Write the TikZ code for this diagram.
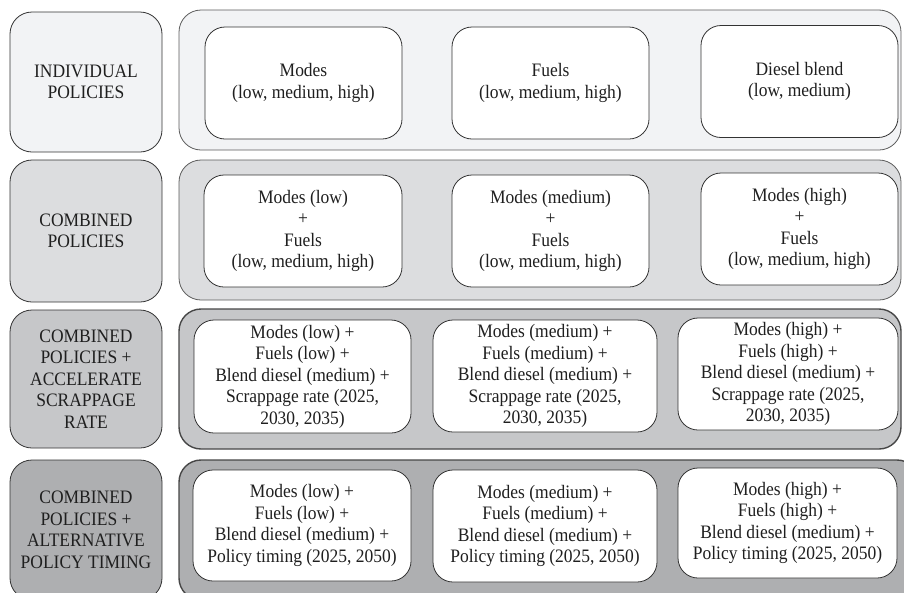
\documentclass[tikz,border=0pt]{standalone}
\usepackage{fontspec}
\setmainfont{Liberation Serif}[FakeStretch=0.92]
\usepackage{tikz}

\definecolor{shadeA}{HTML}{F2F3F5}
\definecolor{shadeB}{HTML}{DCDDDF}
\definecolor{shadeC}{HTML}{C6C7C9}
\definecolor{shadeD}{HTML}{AEAFB1}
\definecolor{rim}{HTML}{333333}

\begin{document}
\begin{tikzpicture}[x=1pt, y=-1pt,
  every node/.style={font=\fontsize{19}{21.5}\selectfont, align=center, text=black!88},
  rowtag/.style={draw=rim, line width=.8pt, rounded corners=22pt,
    minimum width=152pt, minimum height=140pt, inner sep=0pt},
  panel/.style={draw=rim!80, line width=.8pt, rounded corners=22pt,
    minimum width=722pt, minimum height=140pt, inner sep=0pt},
  option/.style={draw=rim, line width=.8pt, fill=white, rounded corners=20pt,
    minimum height=112pt, inner sep=0pt}
  ]
  \clip (0,0) rectangle (904,592);
  \useasboundingbox (0,0) rectangle (904,592);

  % row tags
  \node[rowtag, fill=shadeA] (tag1) at (86,82) {INDIVIDUAL\\POLICIES};
  \node[rowtag, fill=shadeB, minimum height=142pt] (tag2) at (86,231) {COMBINED\\POLICIES};
  \node[rowtag, fill=shadeC, minimum height=138pt] (tag3) at (86,379)
    {COMBINED\\POLICIES +\\ACCELERATE\\SCRAPPAGE\\RATE};
  \node[rowtag, fill=shadeD] (tag4) at (86,530)
    {COMBINED\\POLICIES +\\ALTERNATIVE\\POLICY TIMING};

  % panels
  \node[panel, fill=shadeA] (row1) at (540,80) {};
  \node[panel, fill=shadeB] (row2) at (540,230) {};
  \node[panel, fill=shadeC, draw=rim!90, line width=1.4pt] (row3) at (540,379) {};
  \node[panel, fill=shadeD, draw=rim!90, line width=1.4pt, minimum width=740pt] (row4) at (549,530) {};

  % individual policies
  \node[option, minimum width=197pt] (ind1) at (303.5,83) {Modes\\(low, medium, high)};
  \node[option, minimum width=197pt] (ind2) at (550.5,83) {Fuels\\(low, medium, high)};
  \node[option, minimum width=197pt] (ind3) at (799.5,81.5) {Diesel blend\\(low, medium)};

  % combined policies
  \node[option, minimum width=198pt] (com1) at (303,231)
    {Modes (low)\\+\\Fuels\\(low, medium, high)};
  \node[option, minimum width=197pt] (com2) at (550.5,231)
    {Modes (medium)\\+\\Fuels\\(low, medium, high)};
  \node[option, minimum width=197pt] (com3) at (799.5,229)
    {Modes (high)\\+\\Fuels\\(low, medium, high)};

  % scrappage rate
  \node[option, minimum width=217pt, minimum height=113pt] (scr1) at (302.5,376.5)
    {Modes (low) +\\Fuels (low) +\\Blend diesel (medium) +\\Scrappage rate (2025,\\2030, 2035)};
  \node[option, minimum width=224pt] (scr2) at (545,376)
    {Modes (medium) +\\Fuels (medium) +\\Blend diesel (medium) +\\Scrappage rate (2025,\\2030, 2035)};
  \node[option, minimum width=220pt] (scr3) at (788,374)
    {Modes (high) +\\Fuels (high) +\\Blend diesel (medium) +\\Scrappage rate (2025,\\2030, 2035)};

  % policy timing
  \node[option, minimum width=218pt, minimum height=111pt] (tim1) at (302,525.5)
    {Modes (low) +\\Fuels (low) +\\Blend diesel (medium) +\\Policy timing (2025, 2050)};
  \node[option, minimum width=224pt] (tim2) at (545,526)
    {Modes (medium) +\\Fuels (medium) +\\Blend diesel (medium) +\\Policy timing (2025, 2050)};
  \node[option, minimum width=219pt, minimum height=110pt] (tim3) at (787.5,523)
    {Modes (high) +\\Fuels (high) +\\Blend diesel (medium) +\\Policy timing (2025, 2050)};
\end{tikzpicture}
\end{document}
